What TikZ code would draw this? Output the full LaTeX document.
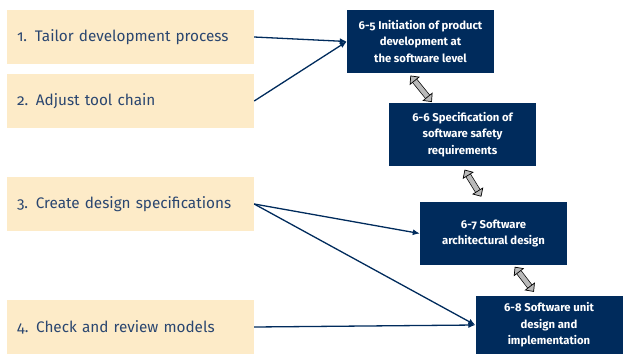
\documentclass[tikz,border=0pt]{standalone}
\usepackage{fontspec}
\setmainfont{Fira Sans}[Numbers=OldStyle]
\usetikzlibrary{arrows.meta,positioning}

\definecolor{navy}{HTML}{002B5C}
\definecolor{sand}{HTML}{FDEBC8}
\definecolor{ink}{HTML}{2A4670}

\tikzset{
	task/.style={fill=sand, text=ink, minimum height=54pt, text width=227pt,
		inner xsep=10pt, align=left, font=\fontsize{15.3}{18}\selectfont},
	part/.style={fill=navy, text=white, minimum width=147pt, align=center,
		font=\fontsize{11.3}{16.5}\selectfont\bfseries},
	link/.style={-{Latex[length=7pt,width=6pt]}, navy, line width=1.3pt},
	swap/.style={{Triangle[fill=gray!55,length=7pt,width=13pt]}-{Triangle[fill=gray!55,length=7pt,width=13pt]},
		double=gray!55, double distance=4.6pt, line width=0.7pt, black}
}

\begin{document}
\begin{tikzpicture}[x=1pt, y=-1pt]
		\useasboundingbox (0, 0) rectangle (624, 354);
		\path (130.5, 37)   node[task] (t1) {1. Tailor development process}
		      (130.5, 101)  node[task] (t2) {2. Adjust tool chain}
		      (130.5, 204)  node[task] (t3) {3. Create design specifications}
		      (130.5, 327)  node[task] (t4) {4. Check and review models};
		
		\path (420.5, 41.5)  node[part, minimum height=63pt] (b65) {6-5 Initiation of product\\development at\\the software level}
		      (462.5, 134.5) node[part, minimum height=63pt] (b66) {6-6 Specification of\\software safety\\requirements}
		      (493.5, 233.5) node[part, minimum height=63pt] (b67) {6-7 Software\\architectural design}
		      (549, 325)     node[part, minimum height=58pt] (b68) {6-8 Software unit\\design and\\implementation};
		
		\draw[link] (t1.east) -- (b65.west);
		\draw[link] (t2.east) -- (b65.west);
		\draw[link] (t3.east) -- (b67.west);
		\draw[link] (t3.east) -- (b68.west);
		\draw[link] (t4.east) -- (b68.west);
		
		\draw[swap, shorten <=3pt, shorten >=1pt] ([xshift=-12pt]b65.south) -- ([xshift=-30pt]b66.north);
		\draw[swap, shorten <=4pt, shorten >=6pt] (b66.south) -- ([xshift=-9pt]b67.north);
		\draw[swap, shorten <=2pt, shorten >=5pt] ([xshift=20pt]b67.south) -- ([xshift=-12pt]b68.north);
	\end{tikzpicture}
\end{document}
